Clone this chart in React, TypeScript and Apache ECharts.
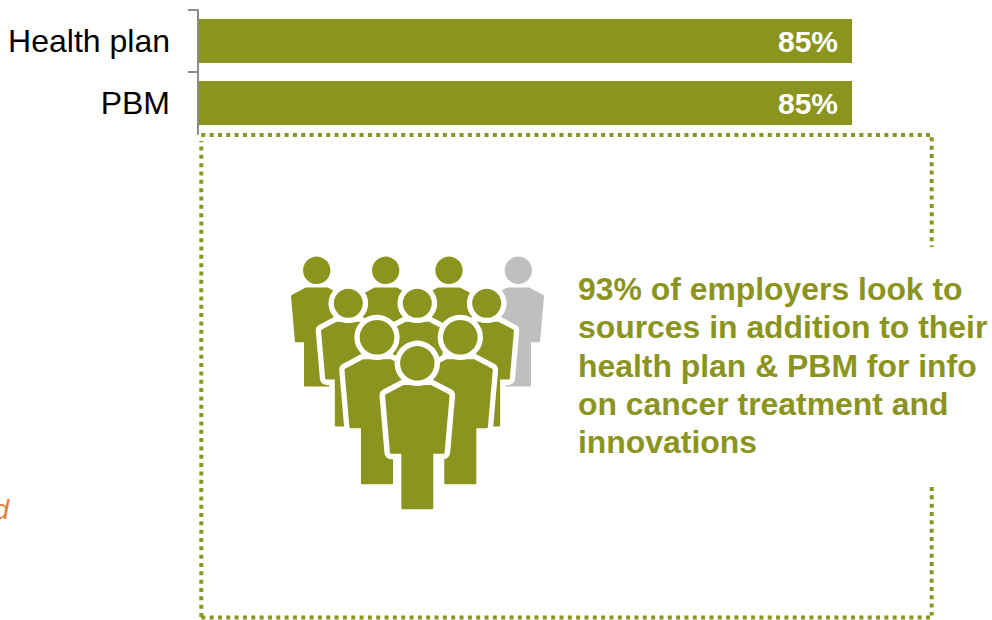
import React, { useEffect, useRef } from "react";
import * as echarts from "echarts";

const categories = ["Health plan", "PBM"];
const shares = [85, 85];
const calloutLines = [
  "93% of employers look to",
  "sources in addition to their",
  "health plan & PBM for info",
  "on cancer treatment and",
  "innovations",
];

const OLIVE = "#8C9420";
const GREY = "#BFBFBF";
const FONT = '"Liberation Sans", Arial, sans-serif';

// Figure silhouette, origin at the centre of the head.
const BODY_PATH =
  "M-11 17.3 L11 17.3 L25 24.6 Q25.8 25 25.7 26 L21.8 71 Q21.7 72 20.8 72 L12.7 72 L12.7 115.3 Q12.7 116.3 11.7 116.3 " +
  "L-11.7 116.3 Q-12.7 116.3 -12.7 115.3 L-12.7 72 L-20.8 72 Q-21.7 72 -21.8 71 L-25.7 26 Q-25.8 25 -25 24.6 Z";
const HEAD_RADIUS = 13.7;

echarts.graphic.registerShape("figureBody", echarts.graphic.extendPath(BODY_PATH, {}));

type Figure = { x: number; y: number; s: number; color: string; ring: number };

// Painted back to front.
const crowd: Figure[] = [
  { x: 316.7, y: 270.3, s: 1, color: OLIVE, ring: 1.6 },
  { x: 385.7, y: 270.3, s: 1, color: OLIVE, ring: 1.6 },
  { x: 449, y: 270.3, s: 1, color: OLIVE, ring: 1.6 },
  { x: 518.3, y: 270.3, s: 1, color: GREY, ring: 1.6 },
  { x: 348.3, y: 303.3, s: 1.06, color: OLIVE, ring: 5.3 },
  { x: 417.3, y: 303.3, s: 1.06, color: OLIVE, ring: 5.3 },
  { x: 486.7, y: 303.3, s: 1.06, color: OLIVE, ring: 5.3 },
  { x: 377, y: 337.3, s: 1.264, color: OLIVE, ring: 5.3 },
  { x: 460.3, y: 337.3, s: 1.264, color: OLIVE, ring: 5.3 },
  { x: 417.3, y: 363.3, s: 1.255, color: OLIVE, ring: 5.5 },
];

function figureElements(f: Figure) {
  const head = HEAD_RADIUS * f.s;
  return [
    {
      type: "figureBody",
      x: f.x,
      y: f.y,
      scaleX: f.s,
      scaleY: f.s,
      style: { fill: "#fff", stroke: "#fff", lineWidth: f.ring > 2 ? (2 * f.ring) / f.s : 0 },
    },
    { type: "figureBody", x: f.x, y: f.y, scaleX: f.s, scaleY: f.s, style: { fill: f.color } },
    { type: "circle", shape: { cx: f.x, cy: f.y, r: head + f.ring }, style: { fill: "#fff" } },
    { type: "circle", shape: { cx: f.x, cy: f.y, r: head }, style: { fill: f.color } },
  ];
}

function dottedLine(x1: number, y1: number, x2: number, y2: number) {
  return {
    type: "line",
    shape: { x1, y1, x2, y2 },
    style: { stroke: OLIVE, lineWidth: 4, lineDash: [4, 4.33], fill: "none" },
  };
}

function tickMark(y: number) {
  return {
    type: "line",
    shape: { x1: 188, y1: y, x2: 198, y2: y },
    style: { stroke: "#8C8C8C", lineWidth: 2 },
  };
}

export default function App() {
  const ref = useRef<HTMLDivElement>(null);

  useEffect(() => {
    const chart = echarts.init(ref.current!, undefined, { renderer: "svg" });
    chart.setOption({
      animation: false,
      backgroundColor: "#fff",
      grid: { left: 198, top: 10, width: 769.4, height: 124 },
      xAxis: { type: "value", min: 0, max: 100, show: false },
      yAxis: {
        type: "category",
        inverse: true,
        data: categories,
        z: 5,
        axisLine: { show: true, lineStyle: { color: "#8C8C8C", width: 2 } },
        axisTick: { show: false },
        axisLabel: { color: "#000", fontFamily: FONT, fontSize: 32, margin: 28 },
      },
      series: [
        {
          type: "bar",
          data: shares,
          barWidth: 44,
          itemStyle: { color: OLIVE },
          label: {
            show: true,
            position: "insideRight",
            distance: 14,
            formatter: "{c}%",
            color: "#fff",
            fontFamily: FONT,
            fontWeight: "bold",
            fontSize: 30,
          },
        },
      ],
      graphic: [
        tickMark(10),
        tickMark(72),
        dottedLine(201.3, 135, 930, 135),
        dottedLine(201.3, 617, 201.3, 141),
        dottedLine(201.3, 617.6, 930, 617.6),
        dottedLine(931.7, 137.3, 931.7, 247),
        dottedLine(931.7, 487, 931.7, 615.5),
        ...crowd.flatMap(figureElements),
        ...calloutLines.map((line, i) => ({
          type: "text",
          x: 578,
          y: 288.8 + i * 38.4,
          style: {
            text: line,
            fill: OLIVE,
            font: `bold 31.9px ${FONT}`,
            textAlign: "left",
            textVerticalAlign: "middle",
          },
        })),
        {
          type: "text",
          x: 9,
          y: 509,
          style: {
            text: "d",
            fill: "#E8803C",
            font: `italic 28px ${FONT}`,
            textAlign: "right",
            textVerticalAlign: "middle",
          },
        },
      ],
    });
    return () => chart.dispose();
  }, []);

  return <div ref={ref} style={{ position: "absolute", left: 0, top: 0, width: 992, height: 620 }} />;
}
